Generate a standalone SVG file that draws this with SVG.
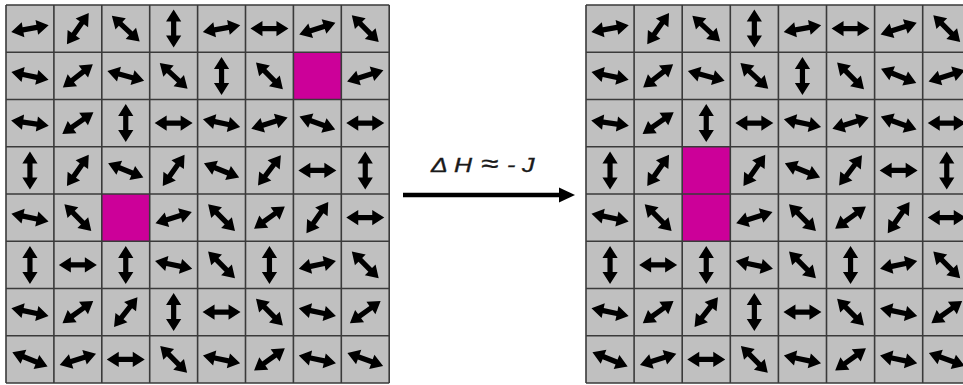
<svg xmlns="http://www.w3.org/2000/svg" width="963" height="385" viewBox="0 0 963 385">
<style>
.bg{fill:#c0c0c0}
.gl{stroke:#3a3a3a;stroke-width:1.6;fill:none}
.mag{fill:#cc0099}
.sp{fill:#000}
.lbl{font-family:"Liberation Sans",Arial,sans-serif;font-style:italic;font-size:20px;fill:#1a1a1a;stroke:#1a1a1a;stroke-width:0.35}
</style>
<defs>
<path id="a" class="sp" d="M-19,0 L-7,-7.6 L-7,-2.6 L7,-2.6 L7,-7.6 L19,0 L7,7.6 L7,2.6 L-7,2.6 L-7,7.6 Z"/>
</defs>
<rect width="963" height="385" fill="#fff"/>

<g id="left-grid">
<rect class="bg" x="6" y="5" width="383.2" height="378"/>
<rect class="mag" x="293.4" y="52.25" width="47.9" height="47.25"/>
<rect class="mag" x="101.8" y="194" width="47.9" height="47.25"/>
<path class="gl" d="M6,5V383M53.9,5V383M101.8,5V383M149.7,5V383M197.6,5V383M245.5,5V383M293.4,5V383M341.3,5V383M389.2,5V383M6,5H389.2M6,52.25H389.2M6,99.5H389.2M6,146.75H389.2M6,194H389.2M6,241.25H389.2M6,288.5H389.2M6,335.75H389.2M6,383H389.2"/>
<g id="left-spins">
<use href="#a" transform="translate(29.95,28.6) rotate(-10)"/>
<use href="#a" transform="translate(77.85,28.6) rotate(-55)"/>
<use href="#a" transform="translate(125.75,28.6) rotate(43)"/>
<use href="#a" transform="translate(173.65,28.6) rotate(90)"/>
<use href="#a" transform="translate(221.55,28.6) rotate(-10)"/>
<use href="#a" transform="translate(269.45,28.6) rotate(0)"/>
<use href="#a" transform="translate(317.35,28.6) rotate(-18)"/>
<use href="#a" transform="translate(365.25,28.6) rotate(45)"/>

<use href="#a" transform="translate(29.95,75.9) rotate(12)"/>
<use href="#a" transform="translate(77.85,75.9) rotate(-38)"/>
<use href="#a" transform="translate(125.75,75.9) rotate(15)"/>
<use href="#a" transform="translate(173.65,75.9) rotate(43)"/>
<use href="#a" transform="translate(221.55,75.9) rotate(90)"/>
<use href="#a" transform="translate(269.45,75.9) rotate(45)"/>
<use href="#a" transform="translate(365.25,75.9) rotate(-17)"/>

<use href="#a" transform="translate(29.95,123.1) rotate(8)"/>
<use href="#a" transform="translate(77.85,123.1) rotate(-35)"/>
<use href="#a" transform="translate(125.75,123.1) rotate(90)"/>
<use href="#a" transform="translate(173.65,123.1) rotate(0)"/>
<use href="#a" transform="translate(221.55,123.1) rotate(12)"/>
<use href="#a" transform="translate(269.45,123.1) rotate(-17)"/>
<use href="#a" transform="translate(317.35,123.1) rotate(20)"/>
<use href="#a" transform="translate(365.25,123.1) rotate(0)"/>

<use href="#a" transform="translate(29.95,170.4) rotate(90)"/>
<use href="#a" transform="translate(77.85,170.4) rotate(-55)"/>
<use href="#a" transform="translate(125.75,170.4) rotate(22)"/>
<use href="#a" transform="translate(173.65,170.4) rotate(-55)"/>
<use href="#a" transform="translate(221.55,170.4) rotate(22)"/>
<use href="#a" transform="translate(269.45,170.4) rotate(-53)"/>
<use href="#a" transform="translate(317.35,170.4) rotate(0)"/>
<use href="#a" transform="translate(365.25,170.4) rotate(90)"/>

<use href="#a" transform="translate(29.95,217.6) rotate(12)"/>
<use href="#a" transform="translate(77.85,217.6) rotate(45)"/>
<use href="#a" transform="translate(173.65,217.6) rotate(-17)"/>
<use href="#a" transform="translate(221.55,217.6) rotate(45)"/>
<use href="#a" transform="translate(269.45,217.6) rotate(-36)"/>
<use href="#a" transform="translate(317.35,217.6) rotate(-55)"/>
<use href="#a" transform="translate(365.25,217.6) rotate(0)"/>

<use href="#a" transform="translate(29.95,264.9) rotate(90)"/>
<use href="#a" transform="translate(77.85,264.9) rotate(0)"/>
<use href="#a" transform="translate(125.75,264.9) rotate(90)"/>
<use href="#a" transform="translate(173.65,264.9) rotate(12)"/>
<use href="#a" transform="translate(221.55,264.9) rotate(45)"/>
<use href="#a" transform="translate(269.45,264.9) rotate(90)"/>
<use href="#a" transform="translate(317.35,264.9) rotate(-12)"/>
<use href="#a" transform="translate(365.25,264.9) rotate(45)"/>

<use href="#a" transform="translate(29.95,312.1) rotate(12)"/>
<use href="#a" transform="translate(77.85,312.1) rotate(-36)"/>
<use href="#a" transform="translate(125.75,312.1) rotate(-52)"/>
<use href="#a" transform="translate(173.65,312.1) rotate(90)"/>
<use href="#a" transform="translate(221.55,312.1) rotate(0)"/>
<use href="#a" transform="translate(269.45,312.1) rotate(45)"/>
<use href="#a" transform="translate(317.35,312.1) rotate(12)"/>
<use href="#a" transform="translate(365.25,312.1) rotate(-36)"/>

<use href="#a" transform="translate(29.95,359.4) rotate(22)"/>
<use href="#a" transform="translate(77.85,359.4) rotate(-17)"/>
<use href="#a" transform="translate(125.75,359.4) rotate(0)"/>
<use href="#a" transform="translate(173.65,359.4) rotate(45)"/>
<use href="#a" transform="translate(221.55,359.4) rotate(12)"/>
<use href="#a" transform="translate(269.45,359.4) rotate(-36)"/>
<use href="#a" transform="translate(317.35,359.4) rotate(12)"/>
<use href="#a" transform="translate(365.25,359.4) rotate(20)"/>
</g>
</g>

<g id="right-grid">
<rect class="bg" x="586" y="5" width="384.8" height="378"/>
<rect class="mag" x="682.2" y="146.75" width="48.1" height="47.25"/>
<rect class="mag" x="682.2" y="194" width="48.1" height="47.25"/>
<path class="gl" d="M586,5V383M634.1,5V383M682.2,5V383M730.3,5V383M778.4,5V383M826.5,5V383M874.6,5V383M922.7,5V383M586,5H970M586,52.25H970M586,99.5H970M586,146.75H970M586,194H970M586,241.25H970M586,288.5H970M586,335.75H970M586,383H970"/>
<g id="right-spins">
<use href="#a" transform="translate(610.05,28.6) rotate(-10)"/>
<use href="#a" transform="translate(658.15,28.6) rotate(-55)"/>
<use href="#a" transform="translate(706.25,28.6) rotate(43)"/>
<use href="#a" transform="translate(754.35,28.6) rotate(90)"/>
<use href="#a" transform="translate(802.45,28.6) rotate(-10)"/>
<use href="#a" transform="translate(850.55,28.6) rotate(0)"/>
<use href="#a" transform="translate(898.65,28.6) rotate(-18)"/>
<use href="#a" transform="translate(946.75,28.6) rotate(45)"/>

<use href="#a" transform="translate(610.05,75.9) rotate(12)"/>
<use href="#a" transform="translate(658.15,75.9) rotate(-38)"/>
<use href="#a" transform="translate(706.25,75.9) rotate(15)"/>
<use href="#a" transform="translate(754.35,75.9) rotate(43)"/>
<use href="#a" transform="translate(802.45,75.9) rotate(90)"/>
<use href="#a" transform="translate(850.55,75.9) rotate(45)"/>
<use href="#a" transform="translate(898.65,75.9) rotate(22)"/>
<use href="#a" transform="translate(946.75,75.9) rotate(-17)"/>

<use href="#a" transform="translate(610.05,123.1) rotate(8)"/>
<use href="#a" transform="translate(658.15,123.1) rotate(-35)"/>
<use href="#a" transform="translate(706.25,123.1) rotate(90)"/>
<use href="#a" transform="translate(754.35,123.1) rotate(0)"/>
<use href="#a" transform="translate(802.45,123.1) rotate(12)"/>
<use href="#a" transform="translate(850.55,123.1) rotate(-17)"/>
<use href="#a" transform="translate(898.65,123.1) rotate(20)"/>
<use href="#a" transform="translate(946.75,123.1) rotate(0)"/>

<use href="#a" transform="translate(610.05,170.4) rotate(90)"/>
<use href="#a" transform="translate(658.15,170.4) rotate(-55)"/>
<use href="#a" transform="translate(754.35,170.4) rotate(-55)"/>
<use href="#a" transform="translate(802.45,170.4) rotate(22)"/>
<use href="#a" transform="translate(850.55,170.4) rotate(-53)"/>
<use href="#a" transform="translate(898.65,170.4) rotate(0)"/>
<use href="#a" transform="translate(946.75,170.4) rotate(90)"/>

<use href="#a" transform="translate(610.05,217.6) rotate(12)"/>
<use href="#a" transform="translate(658.15,217.6) rotate(45)"/>
<use href="#a" transform="translate(754.35,217.6) rotate(-17)"/>
<use href="#a" transform="translate(802.45,217.6) rotate(45)"/>
<use href="#a" transform="translate(850.55,217.6) rotate(-36)"/>
<use href="#a" transform="translate(898.65,217.6) rotate(-55)"/>
<use href="#a" transform="translate(946.75,217.6) rotate(0)"/>

<use href="#a" transform="translate(610.05,264.9) rotate(90)"/>
<use href="#a" transform="translate(658.15,264.9) rotate(0)"/>
<use href="#a" transform="translate(706.25,264.9) rotate(90)"/>
<use href="#a" transform="translate(754.35,264.9) rotate(12)"/>
<use href="#a" transform="translate(802.45,264.9) rotate(45)"/>
<use href="#a" transform="translate(850.55,264.9) rotate(90)"/>
<use href="#a" transform="translate(898.65,264.9) rotate(-12)"/>
<use href="#a" transform="translate(946.75,264.9) rotate(45)"/>

<use href="#a" transform="translate(610.05,312.1) rotate(12)"/>
<use href="#a" transform="translate(658.15,312.1) rotate(-36)"/>
<use href="#a" transform="translate(706.25,312.1) rotate(-52)"/>
<use href="#a" transform="translate(754.35,312.1) rotate(90)"/>
<use href="#a" transform="translate(802.45,312.1) rotate(0)"/>
<use href="#a" transform="translate(850.55,312.1) rotate(45)"/>
<use href="#a" transform="translate(898.65,312.1) rotate(12)"/>
<use href="#a" transform="translate(946.75,312.1) rotate(-36)"/>

<use href="#a" transform="translate(610.05,359.4) rotate(22)"/>
<use href="#a" transform="translate(658.15,359.4) rotate(-17)"/>
<use href="#a" transform="translate(706.25,359.4) rotate(0)"/>
<use href="#a" transform="translate(754.35,359.4) rotate(45)"/>
<use href="#a" transform="translate(802.45,359.4) rotate(12)"/>
<use href="#a" transform="translate(850.55,359.4) rotate(-36)"/>
<use href="#a" transform="translate(898.65,359.4) rotate(12)"/>
<use href="#a" transform="translate(946.75,359.4) rotate(20)"/>
</g>
</g>

<g id="connectors">
<path d="M403,195H562" stroke="#000" stroke-width="4.5" fill="none"/>
<path d="M575,195L559,187.5L559,202.5Z" fill="#000"/>
<text class="lbl" transform="scale(1.25,1)" y="172"><tspan x="344.8">Δ</tspan><tspan x="363.2">H</tspan><tspan x="384.8" font-size="25">≈</tspan><tspan x="405.6">-</tspan><tspan x="417.6">J</tspan></text>
</g>
</svg>
